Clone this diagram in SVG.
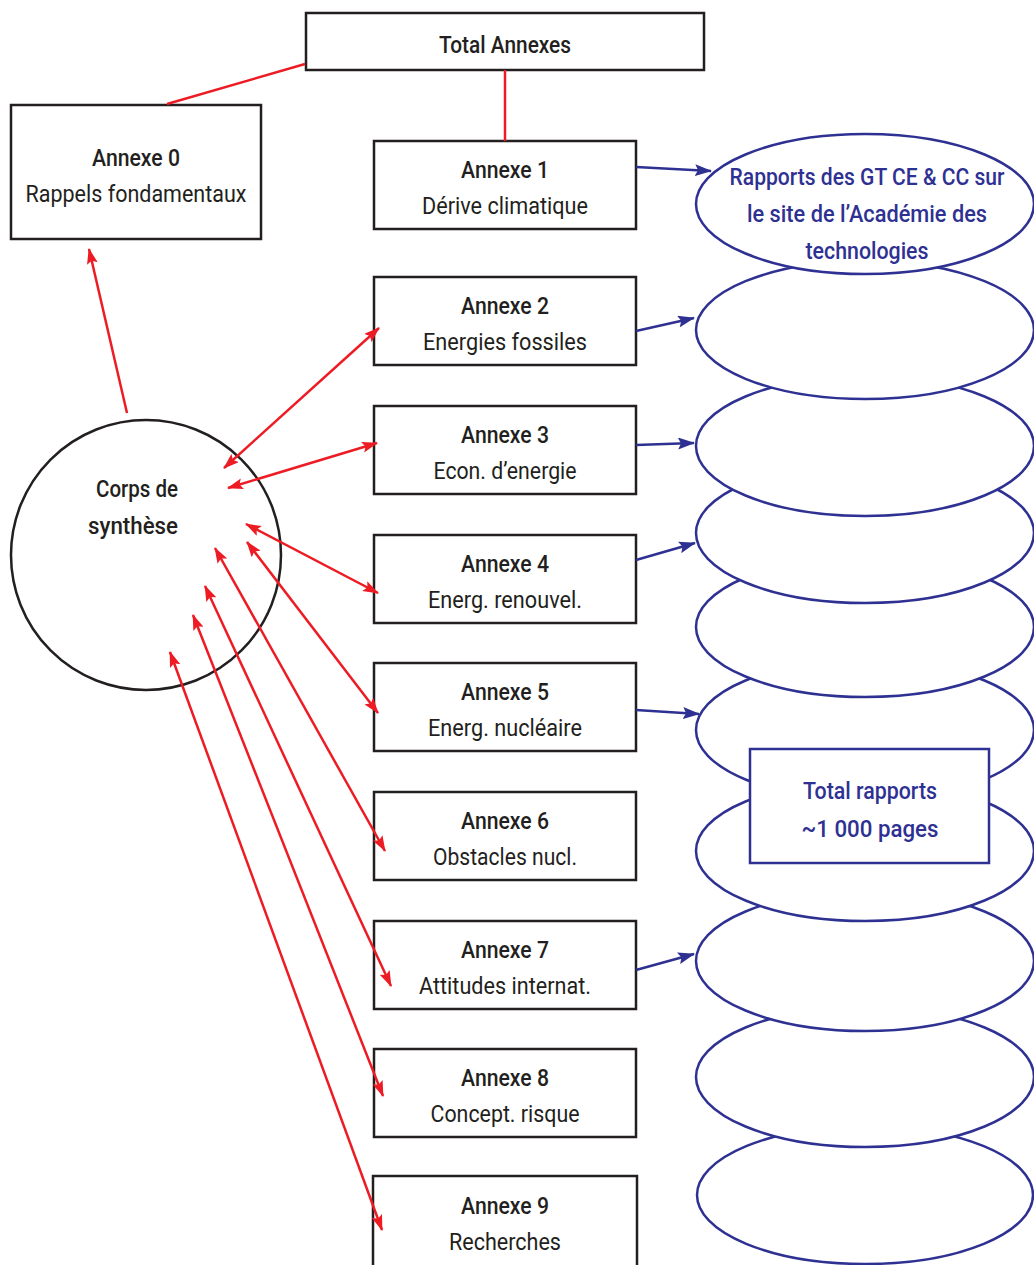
<svg xmlns="http://www.w3.org/2000/svg" width="1034" height="1265" viewBox="0 0 1034 1265">
<style>
  text { font-family: Roboto, "Liberation Sans", "DejaVu Sans", sans-serif; font-size: 23px; text-anchor: middle; fill: #231f20; }
  .t { font-weight: 500; }
  .s { font-weight: 400; }
  .b { fill: #2e3192; font-weight: 500; }
  .box { fill: #ffffff; stroke: #231f20; stroke-width: 2.5; }
  .ell { fill: #ffffff; stroke: #2e3192; stroke-width: 2.5; }
  .bbox { fill: #ffffff; stroke: #2e3192; stroke-width: 2.5; }
  .red { stroke: #ed1c24; stroke-width: 2.5; fill: none; }
  .blue { stroke: #2e3192; stroke-width: 2.5; fill: none; }
</style>
<defs>
  <marker id="ra" viewBox="0 0 16 11" refX="15" refY="5.5" markerWidth="16" markerHeight="11" markerUnits="userSpaceOnUse" orient="auto-start-reverse">
    <path d="M0,0 L16,5.5 L0,11 L3,5.5 z" fill="#ed1c24"/>
  </marker>
  <marker id="ba" viewBox="0 0 17 12" refX="16" refY="6" markerWidth="17" markerHeight="12" markerUnits="userSpaceOnUse" orient="auto">
    <path d="M0,0 L17,6 L0,12 L3,6 z" fill="#2e3192"/>
  </marker>
</defs>

<!-- right ellipses (bottom first) -->
<g id="reports">
  <ellipse class="ell" cx="865" cy="1195" rx="168" ry="69"/>
  <ellipse class="ell" cx="865" cy="1077" rx="169" ry="70"/>
  <ellipse class="ell" cx="865" cy="961" rx="169" ry="70"/>
  <ellipse class="ell" cx="865" cy="851" rx="169" ry="70"/>
  <ellipse class="ell" cx="865" cy="730" rx="169" ry="70"/>
  <ellipse class="ell" cx="865" cy="627" rx="169" ry="70"/>
  <ellipse class="ell" cx="865" cy="533" rx="169" ry="70"/>
  <ellipse class="ell" cx="865" cy="446" rx="169" ry="70"/>
  <ellipse class="ell" cx="865" cy="330" rx="169" ry="69"/>
</g>
<g id="report1">
  <ellipse class="ell" cx="865" cy="204" rx="169" ry="70"/>
  <text class="b" x="867" y="185" textLength="275" lengthAdjust="spacingAndGlyphs">Rapports des GT CE &amp; CC sur</text>
  <text class="b" x="867" y="222" textLength="240" lengthAdjust="spacingAndGlyphs">le site de l’Académie des</text>
  <text class="b" x="867" y="259" textLength="123" lengthAdjust="spacingAndGlyphs">technologies</text>
</g>
<g id="total-rapports">
  <rect class="bbox" x="750" y="749" width="239" height="114"/>
  <text class="b" x="870" y="799" textLength="134" lengthAdjust="spacingAndGlyphs">Total rapports</text>
  <text class="b" x="870" y="837" textLength="137" lengthAdjust="spacingAndGlyphs">~1 000 pages</text>
</g>

<g id="total-annexes">
  <rect class="box" x="306" y="13" width="398" height="57"/>
  <text class="t" x="505" y="53" textLength="132" lengthAdjust="spacingAndGlyphs">Total Annexes</text>
</g>
<g id="annexe0">
  <rect class="box" x="11" y="105" width="250" height="134"/>
  <text class="t" x="136" y="166" textLength="88" lengthAdjust="spacingAndGlyphs">Annexe 0</text>
  <text class="s" x="136" y="202" textLength="221" lengthAdjust="spacingAndGlyphs">Rappels fondamentaux</text>
</g>
<g id="annexe1">
  <rect class="box" x="374" y="141" width="262" height="88"/>
  <text class="t" x="505" y="178" textLength="88" lengthAdjust="spacingAndGlyphs">Annexe 1</text>
  <text class="s" x="505" y="214" textLength="166" lengthAdjust="spacingAndGlyphs">Dérive climatique</text>
</g>
<g id="annexe2">
  <rect class="box" x="374" y="277" width="262" height="88"/>
  <text class="t" x="505" y="314" textLength="88" lengthAdjust="spacingAndGlyphs">Annexe 2</text>
  <text class="s" x="505" y="350" textLength="164" lengthAdjust="spacingAndGlyphs">Energies fossiles</text>
</g>
<g id="annexe3">
  <rect class="box" x="374" y="406" width="262" height="88"/>
  <text class="t" x="505" y="443" textLength="88" lengthAdjust="spacingAndGlyphs">Annexe 3</text>
  <text class="s" x="505" y="479" textLength="143" lengthAdjust="spacingAndGlyphs">Econ. d’energie</text>
</g>
<g id="annexe4">
  <rect class="box" x="374" y="535" width="262" height="88"/>
  <text class="t" x="505" y="572" textLength="88" lengthAdjust="spacingAndGlyphs">Annexe 4</text>
  <text class="s" x="505" y="608" textLength="154" lengthAdjust="spacingAndGlyphs">Energ. renouvel.</text>
</g>
<g id="annexe5">
  <rect class="box" x="374" y="663" width="262" height="88"/>
  <text class="t" x="505" y="700" textLength="88" lengthAdjust="spacingAndGlyphs">Annexe 5</text>
  <text class="s" x="505" y="736" textLength="154" lengthAdjust="spacingAndGlyphs">Energ. nucléaire</text>
</g>
<g id="annexe6">
  <rect class="box" x="374" y="792" width="262" height="88"/>
  <text class="t" x="505" y="829" textLength="88" lengthAdjust="spacingAndGlyphs">Annexe 6</text>
  <text class="s" x="505" y="865" textLength="144" lengthAdjust="spacingAndGlyphs">Obstacles nucl.</text>
</g>
<g id="annexe7">
  <rect class="box" x="374" y="921" width="262" height="88"/>
  <text class="t" x="505" y="958" textLength="88" lengthAdjust="spacingAndGlyphs">Annexe 7</text>
  <text class="s" x="505" y="994" textLength="172" lengthAdjust="spacingAndGlyphs">Attitudes internat.</text>
</g>
<g id="annexe8">
  <rect class="box" x="374" y="1049" width="262" height="88"/>
  <text class="t" x="505" y="1086" textLength="88" lengthAdjust="spacingAndGlyphs">Annexe 8</text>
  <text class="s" x="505" y="1122" textLength="149" lengthAdjust="spacingAndGlyphs">Concept. risque</text>
</g>
<g id="annexe9">
  <rect class="box" x="373" y="1176" width="264" height="100"/>
  <text class="t" x="505" y="1214" textLength="88" lengthAdjust="spacingAndGlyphs">Annexe 9</text>
  <text class="s" x="505" y="1250" textLength="112" lengthAdjust="spacingAndGlyphs">Recherches</text>
</g>
<g id="corps">
  <circle cx="146" cy="555" r="135" fill="none" stroke="#231f20" stroke-width="2.5"/>
  <text class="t" x="137" y="497" textLength="82" lengthAdjust="spacingAndGlyphs">Corps de</text>
  <text class="t" x="133" y="534" textLength="90" lengthAdjust="spacingAndGlyphs">synthèse</text>
</g>

<g id="connectors">
  <line class="red" x1="305" y1="64" x2="167" y2="104"/>
  <line class="red" x1="505" y1="70" x2="505" y2="141"/>
  <line class="red" x1="127" y1="413" x2="89" y2="249" marker-end="url(#ra)"/>
  <line class="red" x1="224" y1="468" x2="379" y2="328" marker-start="url(#ra)" marker-end="url(#ra)"/>
  <line class="red" x1="228" y1="488" x2="377" y2="443" marker-start="url(#ra)" marker-end="url(#ra)"/>
  <line class="red" x1="246" y1="524" x2="378" y2="593" marker-start="url(#ra)" marker-end="url(#ra)"/>
  <line class="red" x1="247" y1="542" x2="378" y2="713" marker-start="url(#ra)" marker-end="url(#ra)"/>
  <line class="red" x1="215" y1="548" x2="385" y2="851" marker-start="url(#ra)" marker-end="url(#ra)"/>
  <line class="red" x1="205" y1="586" x2="391" y2="986" marker-start="url(#ra)" marker-end="url(#ra)"/>
  <line class="red" x1="193" y1="615" x2="383" y2="1096" marker-start="url(#ra)" marker-end="url(#ra)"/>
  <line class="red" x1="170" y1="652" x2="382" y2="1230" marker-start="url(#ra)" marker-end="url(#ra)"/>
  <line class="blue" x1="636" y1="167" x2="711" y2="171" marker-end="url(#ba)"/>
  <line class="blue" x1="636" y1="331" x2="694" y2="318" marker-end="url(#ba)"/>
  <line class="blue" x1="636" y1="445" x2="694" y2="443" marker-end="url(#ba)"/>
  <line class="blue" x1="636" y1="560" x2="695" y2="543" marker-end="url(#ba)"/>
  <line class="blue" x1="636" y1="710" x2="699" y2="714" marker-end="url(#ba)"/>
  <line class="blue" x1="636" y1="970" x2="694" y2="954" marker-end="url(#ba)"/>
</g>
</svg>
